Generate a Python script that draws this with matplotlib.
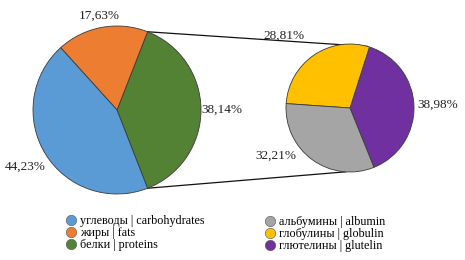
import numpy as np
import matplotlib.pyplot as plt
from matplotlib.lines import Line2D

plt.rcParams['font.family'] = ['Liberation Serif', 'DejaVu Serif']

# composition (left) and protein fractions (right)
main_labels = ['белки | proteins', 'жиры | fats', 'углеводы | carbohydrates']
main_values = [38.14, 17.63, 44.23]
main_text = ['38,14%', '17,63%', '44,23%']
main_colors = ['#548235', '#ED7D31', '#5B9BD5']

prot_labels = ['глютелины | glutelin', 'глобулины | globulin', 'альбумины | albumin']
prot_values = [38.98, 28.81, 32.21]
prot_text = ['38,98%', '28,81%', '32,21%']
prot_colors = ['#7030A0', '#FFC000', '#A5A5A5']

W, H = 465, 260
fig = plt.figure(figsize=(W / 100, H / 100), dpi=100)
ax = fig.add_axes([0, 0, 1, 1])

c1, r1 = (117, 150), 84
c2, r2 = (350, 152), 64

w1, _ = ax.pie(main_values, colors=main_colors, center=c1, radius=r1,
               startangle=-main_values[0] / 100 * 180, counterclock=True,
               wedgeprops=dict(edgecolor='#3a3a3a', linewidth=0.6), frame=True)
w2, _ = ax.pie(prot_values, colors=prot_colors, center=c2, radius=r2,
               startangle=-68, counterclock=True,
               wedgeprops=dict(edgecolor='#3a3a3a', linewidth=0.6), frame=True)
ax.set_xlim(0, W)
ax.set_ylim(0, H)
ax.set_aspect('equal')
ax.axis('off')

# percentage labels: (distance in radii, angle shift in degrees)
pos1 = [(1.25, 0), (1.14, 0), (1.29, 0)]
pos2 = [(1.37, 0), (1.53, 8), (1.38, -21)]


def put_labels(wedges, texts, pos, c, r):
    for w, t, (d, da) in zip(wedges, texts, pos):
        a = np.deg2rad((w.theta1 + w.theta2) / 2 + da)
        ax.text(c[0] + d * r * np.cos(a), c[1] + d * r * np.sin(a), t,
                ha='center', va='center', fontsize=9.5, color='#222222')


put_labels(w1, main_text, pos1, c1, r1)
put_labels(w2, prot_text, pos2, c2, r2)

# connector lines from the proteins wedge to the second pie
g = w1[0]
for a1, a2 in [(g.theta2, 74), (g.theta1, -94)]:
    p1 = (c1[0] + r1 * np.cos(np.deg2rad(a1)), c1[1] + r1 * np.sin(np.deg2rad(a1)))
    p2 = (c2[0] + r2 * np.cos(np.deg2rad(a2)), c2[1] + r2 * np.sin(np.deg2rad(a2)))
    ax.plot([p1[0], p2[0]], [p1[1], p2[1]], color='#111111', lw=0.9, zorder=0)


def legend_handles(colors):
    return [Line2D([], [], ls='', marker='o', markersize=7.5, markerfacecolor=c,
                   markeredgecolor='#555555', markeredgewidth=0.4) for c in colors]


order = [2, 1, 0]
fig.legend(legend_handles([main_colors[i] for i in order]),
           [main_labels[i] for i in order],
           loc='upper left', bbox_to_anchor=(58 / W, 1 - 209 / H),
           frameon=False, fontsize=8.7, handletextpad=0.1, labelspacing=0.0,
           borderpad=0, handlelength=1.2, handleheight=0.6)
fig.legend(legend_handles([prot_colors[i] for i in order]),
           [prot_labels[i] for i in order],
           loc='upper left', bbox_to_anchor=(257 / W, 1 - 210 / H),
           frameon=False, fontsize=8.7, handletextpad=0.1, labelspacing=0.0,
           borderpad=0, handlelength=1.2, handleheight=0.6)

fig.savefig('out.png', dpi=100, facecolor='white')
